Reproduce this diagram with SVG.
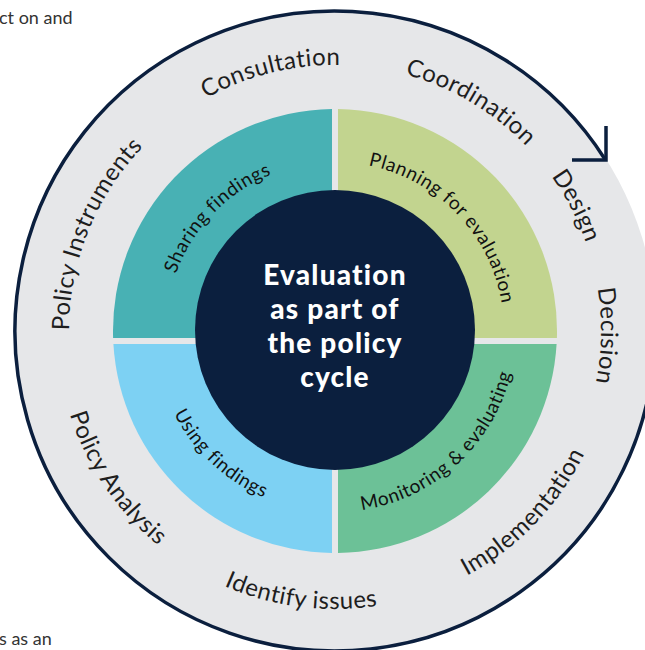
<svg xmlns="http://www.w3.org/2000/svg" width="645" height="650" viewBox="0 0 645 650">
<style>
.frag{font-family:Lato,"Liberation Sans",sans-serif;font-size:18px;fill:#333}
.outer{font-family:Lato,"Liberation Sans",sans-serif;font-size:24px;fill:#1e1e1e;letter-spacing:0.5px}
.inner{font-family:Lato,"Liberation Sans",sans-serif;font-size:19px;fill:#111111;letter-spacing:0.6px}
.center{font-family:Lato,"Liberation Sans",sans-serif;font-size:28px;font-weight:900;fill:#ffffff;letter-spacing:1.2px;text-anchor:middle}
.ring{stroke:#0b1f3e;stroke-width:3.5;fill:none}
</style>
<defs>
<path id="topOuter" d="M 335 597 A 266 266 0 1 1 335 65 A 266 266 0 1 1 335 597"/>
<path id="botOuter" d="M 335 53 A 278 278 0 1 0 335 609 A 278 278 0 1 0 335 53"/>
<path id="topInner" d="M 335 500 A 169 169 0 1 1 335 162 A 169 169 0 1 1 335 500"/>
<path id="botInner" d="M 335 150 A 181 181 0 1 0 335 512 A 181 181 0 1 0 335 150"/>
</defs>
<rect width="645" height="650" fill="#ffffff"/>
<text class="frag" x="-1" y="24">ct on and</text>
<text class="frag" x="-1" y="645">s as an</text>
<g id="outer-ring">
<circle cx="335" cy="331" r="321" fill="#e6e7e9"/>
</g>
<g id="connectors">
<path class="ring" d="M 655 331 A 320 320 0 1 1 605.5 160"/>
<polyline class="ring" stroke-width="4" stroke-linejoin="miter" points="606,126 606,160 572,160"/>
</g>
<g id="sharing-findings">
<path d="M 332 338 L 113.1 338 A 222 222 0 0 1 332 109 Z" fill="#48b1b4"/>
<text class="inner" text-anchor="middle"><textPath href="#topInner" startOffset="394.7">Sharing findings</textPath></text>
</g>
<g id="planning-for-evaluation">
<path d="M 338 338 L 338 109 A 222 222 0 0 1 556.9 338 Z" fill="#c2d48f"/>
<text class="inner" text-anchor="middle"><textPath href="#topInner" startOffset="666.6">Planning for evaluation</textPath></text>
</g>
<g id="monitoring-evaluating">
<path d="M 338 344 L 556.6 344 A 222 222 0 0 1 338 553 Z" fill="#6cc197"/>
<text class="inner" text-anchor="middle"><textPath href="#botInner" startOffset="702.9">Monitoring &amp; evaluating</textPath></text>
</g>
<g id="using-findings">
<path d="M 332 344 L 332 553 A 222 222 0 0 1 113.4 344 Z" fill="#7dd1f3"/>
<text class="inner" text-anchor="middle"><textPath href="#botInner" startOffset="432.8">Using findings</textPath></text>
</g>
<g id="center">
<circle cx="335" cy="330" r="140" fill="#0b1f3e"/>
<text class="center" x="335" y="285">Evaluation</text>
<text class="center" x="335" y="319">as part of</text>
<text class="center" x="335" y="353">the policy</text>
<text class="center" x="335" y="387">cycle</text>
</g>
<g id="policy-instruments"><text class="outer" text-anchor="middle"><textPath href="#topOuter" startOffset="519.9">Policy Instruments</textPath></text></g>
<g id="consultation"><text class="outer" text-anchor="middle"><textPath href="#topOuter" startOffset="770.7">Consultation</textPath></text></g>
<g id="coordination"><text class="outer" text-anchor="middle"><textPath href="#topOuter" startOffset="977.7">Coordination</textPath></text></g>
<g id="design"><text class="outer" text-anchor="middle"><textPath href="#topOuter" startOffset="1125.8">Design</textPath></text></g>
<g id="decision"><text class="outer" text-anchor="middle"><textPath href="#topOuter" startOffset="1257.7">Decision</textPath></text></g>
<g id="implementation"><text class="outer" text-anchor="middle"><textPath href="#botOuter" startOffset="1096.5">Implementation</textPath></text></g>
<g id="identify-issues"><text class="outer" text-anchor="middle"><textPath href="#botOuter" startOffset="837.5">Identify issues</textPath></text></g>
<g id="policy-analysis"><text class="outer" text-anchor="middle"><textPath href="#botOuter" startOffset="601.6">Policy Analysis</textPath></text></g>
</svg>
